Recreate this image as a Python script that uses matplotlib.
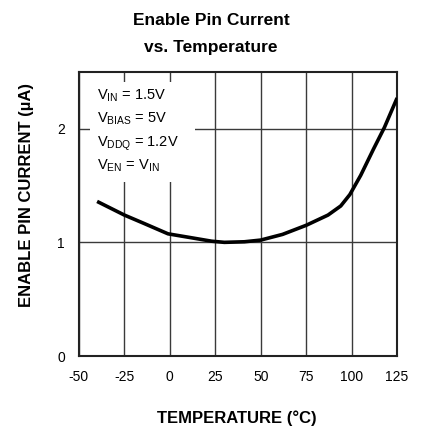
import matplotlib
matplotlib.use('Agg')
import matplotlib.pyplot as plt
from matplotlib.patches import Rectangle

plt.rcParams['font.family'] = ['Liberation Sans', 'DejaVu Sans']
plt.rcParams['mathtext.fontset'] = 'custom'
plt.rcParams['mathtext.rm'] = 'Liberation Sans'
plt.rcParams['axes.unicode_minus'] = False

# Enable pin current vs temperature
temp_c = [-40, -25, -14, -1, 12, 23, 30, 41, 50, 62, 75, 87, 94, 99, 105, 112, 118, 125]
current_ua = [1.36, 1.24, 1.165, 1.075, 1.04, 1.01, 1.00, 1.005, 1.02, 1.07, 1.15,
              1.24, 1.32, 1.42, 1.59, 1.82, 2.01, 2.27]

x_ticks = [-50, -25, 0, 25, 50, 75, 100, 125]
y_ticks = [0, 1, 2]

conditions = [
    r'V$_{\mathregular{IN}}$ = 1.5V',
    r'V$_{\mathregular{BIAS}}$ = 5V',
    r'V$_{\mathregular{DDQ}}$ = 1.2V',
    r'V$_{\mathregular{EN}}$ = V$_{\mathregular{IN}}$',
]

fig = plt.figure(figsize=(4.22, 4.30), dpi=100)
ax = fig.add_axes([0.187, 0.172, 0.754, 0.661])

ax.set_xlim(-50, 125)
ax.set_ylim(0, 2.5)
ax.set_xticks(x_ticks)
ax.set_yticks(y_ticks)
ax.tick_params(length=0, labelsize=10, pad=10)
ax.grid(True, color='#3a3a3a', linewidth=1.0)
ax.set_axisbelow(True)
for s in ax.spines.values():
    s.set_linewidth(1.5)
    s.set_color('#222222')

# white panel behind the test conditions
ax.add_patch(Rectangle((0.035, 0.613), 0.33, 0.352, transform=ax.transAxes,
                       facecolor='white', edgecolor='none', zorder=1.5))
for i, t in enumerate(conditions):
    ax.text(0.057, 0.905 - i * 0.083, t, transform=ax.transAxes, fontsize=10.5,
            va='baseline', ha='left', zorder=3)

ax.plot(temp_c, current_ua, color='black', linewidth=2.6, zorder=4,
        solid_capstyle='butt', solid_joinstyle='round')

ax.text(0.497, -0.218, 'TEMPERATURE (°C)', transform=ax.transAxes, fontsize=12,
        fontweight='bold', ha='center', va='center')
ax.text(-0.164, 0.567, 'ENABLE PIN CURRENT (µA)', transform=ax.transAxes,
        fontsize=12, fontweight='bold', ha='center', va='center', rotation=90)

fig.text(0.5, 0.942, 'Enable Pin Current', ha='center', va='baseline',
         fontsize=12.5, fontweight='bold')
fig.text(0.5, 0.879, 'vs. Temperature', ha='center', va='baseline',
         fontsize=12.5, fontweight='bold')

fig.savefig('out.png', dpi=100)
